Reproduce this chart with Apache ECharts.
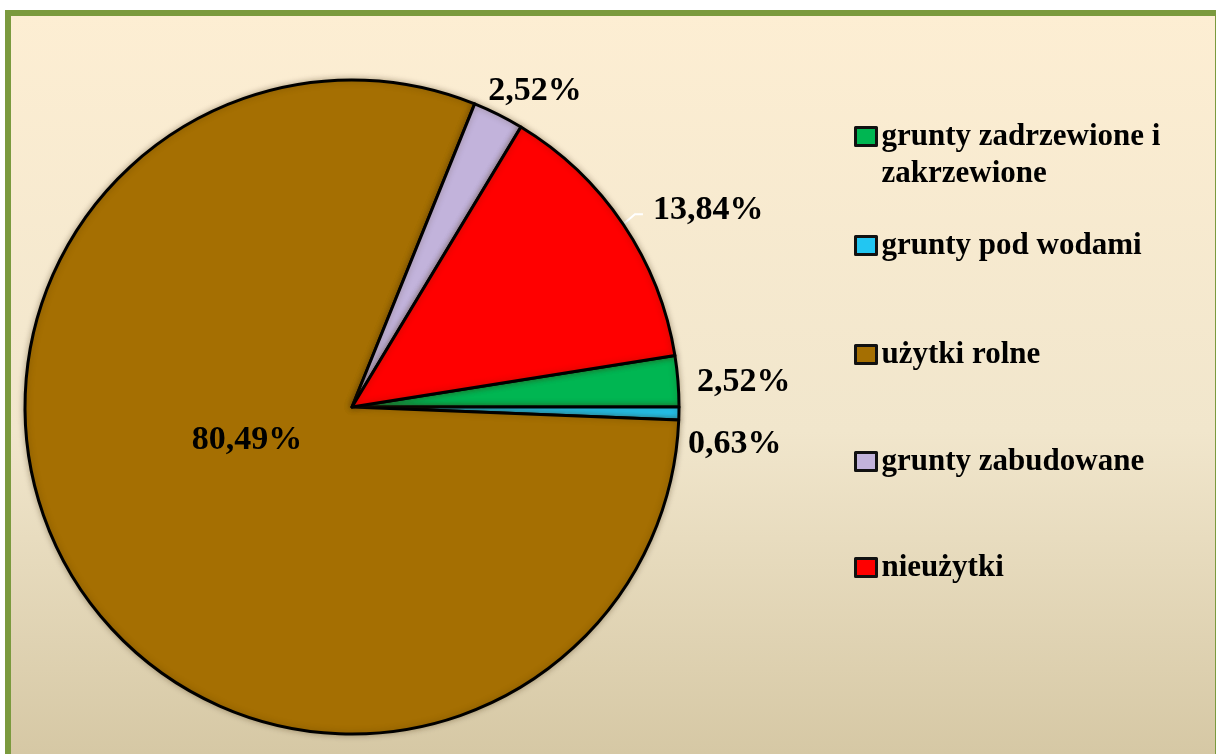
<!DOCTYPE html>
<html>
<head>
<meta charset="utf-8">
<title>Struktura użytkowania gruntów</title>
<script src="https://cdn.jsdelivr.net/npm/echarts@6/dist/echarts.min.js"></script>
<style>
    html, body { margin: 0; padding: 0; background: #ffffff; }
    #chart { width: 1216px; height: 754px; }
</style>
</head>
<body>
<div id="chart"></div>
<script>
const categories = [
    "grunty zadrzewione i\nzakrzewione",
    "grunty pod wodami",
    "użytki rolne",
    "grunty zabudowane",
    "nieużytki",
];
const shares = [2.52, 0.63, 80.49, 2.52, 13.84];
const colors = ["#00b652", "#22c6f2", "#a56f02", "#c2b3db", "#ff0000"];

// label nudges (dx, dy) from where echarts puts them
const labelShift = [
    [-7, 2],
    [-17, 28],
    [35, -57],
    [-30, -7],
    [6, -4],
];
const legendTops = [76, 222, 331, 438, 544];

const serif = '"Liberation Serif", "DejaVu Serif", serif';
const chart = echarts.init(document.getElementById("chart"));

function fmt(v) {
    return v.toFixed(2).replace(".", ",") + "%";
}

const pieData = categories.map((name, i) => {
    const item = {
        name: name,
        value: shares[i],
        itemStyle: { color: colors[i] },
    };
    if (i === 2) {
        item.label = { position: "inside" };
    }
    if (i !== 4) {
        item.labelLine = { show: false };
    }
    return item;
});

const legends = categories.map((name, i) => ({
    data: [name],
    // two-line entry: a blank first line keeps the marker level with the text's first line
    formatter: (n) => (n.includes("\n") ? "\n" + n : n),
    left: 849,
    top: legendTops[i],
    orient: "vertical",
    icon: "rect",
    itemWidth: 21,
    itemHeight: 18,
    selectedMode: false,
    itemStyle: { borderColor: "#111", borderWidth: 3 },
    textStyle: {
        fontFamily: serif,
        fontWeight: "bold",
        fontSize: 31,
        lineHeight: 37,
        color: "#000",
    },
}));

chart.setOption({
    animation: false,
    graphic: [
        {
            type: "rect",
            z: -10,
            silent: true,
            shape: { x: 8, y: 13, width: 1210, height: 760 },
            style: {
                fill: new echarts.graphic.LinearGradient(0, 0, 0, 1, [
                    { offset: 0, color: "#fdeed3" },
                    { offset: 0.55, color: "#f1e6cc" },
                    { offset: 1, color: "#d4c6a2" },
                ]),
                stroke: "#7b9a3e",
                lineWidth: 6,
            },
        },
    ],
    legend: legends,
    series: [
        {
            type: "pie",
            center: [352, 407],
            radius: 327,
            startAngle: 9.07,
            clockwise: true,
            data: pieData,
            itemStyle: {
                borderColor: "#000",
                borderWidth: 3,
                shadowBlur: 6,
                shadowColor: "rgba(60, 40, 10, 0.35)",
            },
            label: {
                show: true,
                position: "outside",
                formatter: (p) => fmt(p.value),
                fontFamily: serif,
                fontWeight: "bold",
                fontSize: 34,
                color: "#000",
                distanceToLabelLine: 4,
            },
            labelLine: {
                show: true,
                length: 18,
                length2: 8,
                lineStyle: { color: "#ffffff", width: 2 },
            },
            labelLayout: (params) => {
                const s = labelShift[params.dataIndex];
                return { dx: s[0], dy: s[1] };
            },
            emphasis: { disabled: true },
        },
    ],
});

window.addEventListener("resize", () => chart.resize());
</script>
</body>
</html>
